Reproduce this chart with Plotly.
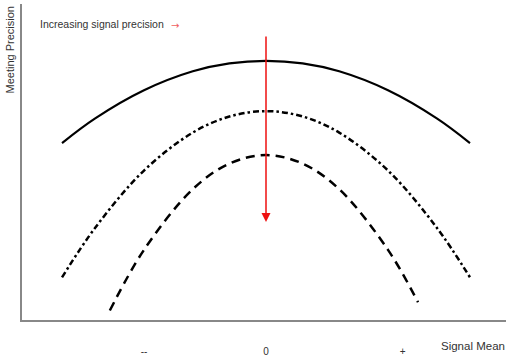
import plotly.graph_objects as go

# Data (schematic curves)
solid_x = [-0.836, -0.7, -0.5, -0.3, -0.15, 0.0, 0.15, 0.3, 0.5, 0.7, 0.836]
solid_y = [0.560, 0.638, 0.727, 0.787, 0.812, 0.820, 0.812, 0.787, 0.727, 0.638, 0.560]

dashdot_x = [-0.836, -0.7, -0.5, -0.3, -0.15, 0.0, 0.15, 0.3, 0.5, 0.7, 0.836]
dashdot_y = [0.135, 0.292, 0.473, 0.593, 0.644, 0.661, 0.644, 0.593, 0.473, 0.292, 0.135]

dashed_x = [-0.64, -0.5, -0.3, -0.15, 0.0, 0.15, 0.3, 0.5, 0.623]
dashed_y = [0.030, 0.222, 0.414, 0.495, 0.522, 0.495, 0.414, 0.222, 0.056]

tick_vals = [-0.5, 0.0, 0.56]
tick_text = ["--", "0", "+"]

arrow_x = 0.0
arrow_tail_y = 0.902
arrow_head_y = 0.31

FONT = "Liberation Sans, Arial, sans-serif"

fig = go.Figure()
fig.add_trace(go.Scatter(x=solid_x, y=solid_y, mode="lines", line_shape="spline",
                         line=dict(color="black", width=2.2)))
fig.add_trace(go.Scatter(x=dashdot_x, y=dashdot_y, mode="lines", line_shape="spline",
                         line=dict(color="black", width=2.5, dash="6px,3px,2.5px,3px")))
fig.add_trace(go.Scatter(x=dashed_x, y=dashed_y, mode="lines", line_shape="spline",
                         line=dict(color="black", width=2.5, dash="9px,6px")))

fig.add_annotation(x=arrow_x, y=arrow_head_y, ax=arrow_x, ay=arrow_tail_y,
                   xref="x", yref="y", axref="x", ayref="y", text="",
                   showarrow=True, arrowhead=2, arrowsize=1.2, arrowwidth=1.5,
                   arrowcolor="#ee1111")

fig.add_annotation(xref="paper", yref="paper", x=(38 - 22) / 484, y=(320 - 24) / 316,
                   xanchor="left", yanchor="middle", showarrow=False,
                   text="Increasing signal precision",
                   font=dict(family=FONT, size=10.5, color="#333"))
fig.add_annotation(xref="paper", yref="paper", x=(175 - 22) / 484, y=(320 - 25) / 316,
                   xanchor="center", yanchor="middle", showarrow=False,
                   text="→", font=dict(family="DejaVu Sans", size=10, color="#f06060"))

fig.add_annotation(xref="paper", yref="paper", x=(10 - 22) / 484, y=0.997,
                   xanchor="center", yanchor="top", showarrow=False, textangle=-90,
                   text="Meeting Precision",
                   font=dict(family=FONT, size=11, color="#333"))
fig.add_annotation(xref="paper", yref="paper", x=1.0, y=(320 - 346) / 316,
                   xanchor="right", yanchor="middle", showarrow=False,
                   text="Signal Mean", borderpad=0,
                   font=dict(family=FONT, size=11.5, color="#333"))

fig.update_layout(
    width=506, height=358,
    margin=dict(l=22, r=0, t=4, b=38),
    paper_bgcolor="white", plot_bgcolor="white",
    showlegend=False,
    xaxis=dict(range=[-1.0, 240 / 244], showgrid=False, zeroline=False,
               showline=True, linecolor="#888", linewidth=2,
               tickmode="array", tickvals=tick_vals, ticktext=tick_text,
               ticks="", ticklabelstandoff=21,
               tickfont=dict(family=FONT, size=10, color="#333")),
    yaxis=dict(range=[0, 1], showgrid=False, zeroline=False,
               showline=True, linecolor="#888", linewidth=2,
               showticklabels=False, ticks=""),
)

fig.write_html("out.html")
